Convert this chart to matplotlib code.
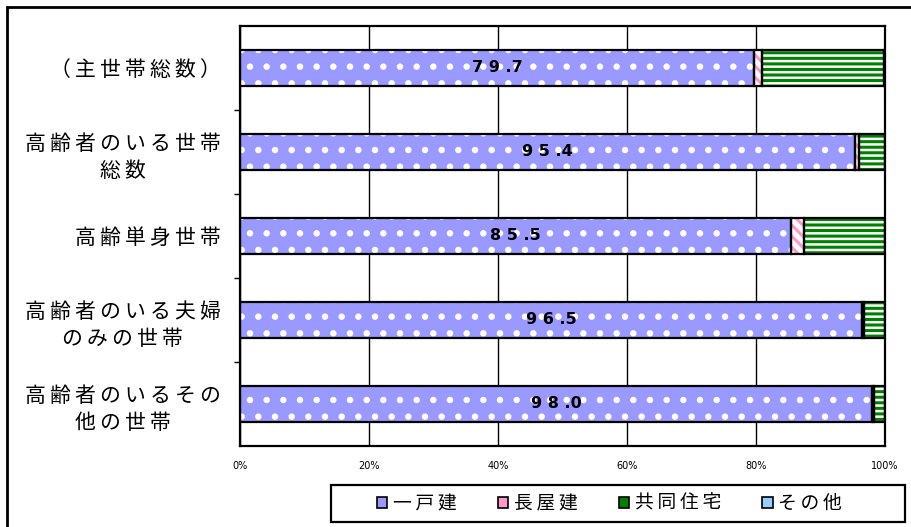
import numpy as np
import matplotlib
matplotlib.use('Agg')
import matplotlib.pyplot as plt
from matplotlib.patches import Rectangle, Patch

plt.rcParams['font.family'] = ['Noto Sans CJK JP', 'DejaVu Sans']
plt.rcParams['hatch.linewidth'] = 2.2

categories = ['（主世帯総数）', '高齢者のいる世帯\n総数', '高齢単身世帯',
              '高齢者のいる夫婦\nのみの世帯', '高齢者のいるその\n他の世帯']
series = ['一戸建', '長屋建', '共同住宅', 'その他']
ikkodate = [79.7, 95.4, 85.5, 96.5, 98.0]
nagaya = [1.2, 0.6, 2.0, 0.3, 0.3]
kyodo = [19.0, 4.0, 12.5, 3.2, 1.7]
sonota = [0.1, 0.0, 0.0, 0.0, 0.0]
xticks = [0, 20, 40, 60, 80, 100]


def spaced(s):
    # wide letter spacing like the original
    return '\n'.join('\u2009'.join(line) for line in s.split('\n'))


fig = plt.figure(figsize=(9.11, 5.27), dpi=100)
ax = fig.add_axes([240/911, 1-446/527, 645/911, 420/527])

# outer frame (right / bottom edges fall outside the picture)
fig.patches.append(Rectangle((7/911, -0.1), 1.2, 1.1 - 7/527, transform=fig.transFigure,
                             fill=False, edgecolor='black', linewidth=2, zorder=0))

y = np.arange(len(categories))
h = 0.44
data = [ikkodate, nagaya, kyodo, sonota]
faces = ['#9999ff', 'white', 'white', '#99ccff']
hcols = ['white', '#ff99cc', '#008000', '#99ccff']
hatches = ['.', '\\\\\\', '---', '']
left = np.zeros(len(categories))
for vals, fc, hc, ht in zip(data, faces, hcols, hatches):
    vals = np.array(vals)
    ax.barh(y, vals, h, left=left, color=fc, edgecolor=hc, hatch=ht, linewidth=0, zorder=2)
    ax.barh(y, vals, h, left=left, fill=False, edgecolor='black', linewidth=1.6, zorder=3)
    left += vals

for i, v in enumerate(ikkodate):
    ax.text(v/2, y[i], ' '.join(f'{v:.1f}').replace(' . ', ' .'), ha='center', va='center',
            fontsize=11.5, fontweight='bold', family='DejaVu Sans', zorder=4)

ax.set_xlim(0, 100)
ax.set_ylim(len(categories)-0.5, -0.5)
ax.set_xticks(xticks)
ax.set_xticklabels([f'{t}%' for t in xticks], fontsize=7, family='DejaVu Sans')
ax.tick_params(axis='x', length=0, pad=11)
ax.grid(axis='x', color='black', linewidth=1, zorder=1)
ax.set_axisbelow(True)
ax.set_yticks(y)
ax.set_yticklabels([spaced(c) for c in categories], fontsize=15,
                   multialignment='center', linespacing=1.3)
ax.tick_params(axis='y', which='major', length=0, pad=14)
ax.set_yticks(np.arange(1, len(categories)) - 0.5, minor=True)
ax.tick_params(axis='y', which='minor', length=4, width=1)
for s in ax.spines.values():
    s.set_linewidth(1.6)

# legend box
fig.patches.append(Rectangle((331/911, 5/527), 574/911, 37/527, transform=fig.transFigure,
                             facecolor='white', edgecolor='black', linewidth=1.6, zorder=5))
handles = [Patch(facecolor=c, edgecolor='black', linewidth=1.2)
           for c in ['#9999ff', '#ff99cc', '#008000', '#99ccff']]
leg = fig.legend(handles, [spaced(s) for s in series], loc='center left', ncol=4,
                 bbox_to_anchor=(377/911, 23.5/527),
                 fontsize=13.5, handlelength=0.55, handleheight=0.55, handletextpad=0.3,
                 columnspacing=2.2, frameon=False, borderaxespad=0, borderpad=0)
leg.set_zorder(6)

fig.savefig('out.png', dpi=100)
